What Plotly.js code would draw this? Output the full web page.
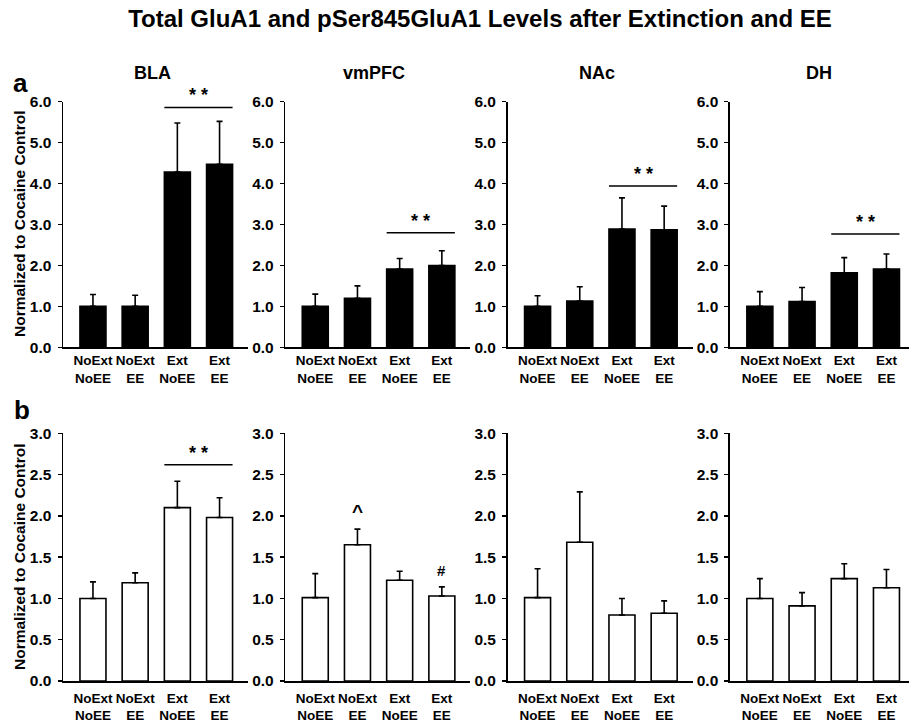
<!DOCTYPE html>
<html>
<head>
<meta charset="utf-8">
<script src="https://cdn.plot.ly/plotly-3.0.1.min.js"></script>
<style>html,body{margin:0;padding:0;background:#fff;}#chart{width:909px;height:724px;}</style>
</head>
<body>
<div id="chart"></div>
<script>
// ---------- data ----------
const categories = ['NoExt<br>NoEE', 'NoExt<br>EE', 'Ext<br>NoEE', 'Ext<br>EE'];
const regions = ['BLA', 'vmPFC', 'NAc', 'DH'];

// (a) Total GluA1, normalized to cocaine control
const totalBLA   = [1.00, 1.00, 4.28, 4.47];
const totalVmPFC = [1.00, 1.20, 1.91, 2.00];
const totalNAc   = [1.00, 1.13, 2.89, 2.87];
const totalDH    = [1.00, 1.12, 1.82, 1.91];
// top of the error bar (mean + SEM)
const totalBLAErrTop   = [1.29, 1.27, 5.48, 5.52];
const totalVmPFCErrTop = [1.30, 1.50, 2.17, 2.36];
const totalNAcErrTop   = [1.26, 1.48, 3.65, 3.45];
const totalDHErrTop    = [1.36, 1.46, 2.19, 2.28];

// (b) pSer845 GluA1, normalized to cocaine control
const pSerBLA   = [1.00, 1.19, 2.10, 1.98];
const pSerVmPFC = [1.01, 1.65, 1.22, 1.03];
const pSerNAc   = [1.01, 1.68, 0.80, 0.82];
const pSerDH    = [1.00, 0.91, 1.24, 1.13];
const pSerBLAErrTop   = [1.20, 1.31, 2.42, 2.22];
const pSerVmPFCErrTop = [1.30, 1.84, 1.33, 1.14];
const pSerNAcErrTop   = [1.36, 2.29, 1.00, 0.97];
const pSerDHErrTop    = [1.24, 1.07, 1.42, 1.35];

// significance bracket heights (data units), null = none
const totalSigLine = [5.86, 2.80, 3.94, 2.77];
const pSerSigLine  = [2.62, null, null, null];
const sigLabel = '* *';
const yTitle = 'Normalized to Cocaine Control';
const mainTitle = 'Total GluA1 and pSer845GluA1 Levels after Extinction and EE';

// ---------- layout helpers ----------
const W = 909, H = 724;
const px = x => x / W;
const py = y => 1 - y / H;
const FONT = 'Liberation Sans, Arial, sans-serif';

const topMeans = [totalBLA, totalVmPFC, totalNAc, totalDH];
const topErr   = [totalBLAErrTop, totalVmPFCErrTop, totalNAcErrTop, totalDHErrTop];
const botMeans = [pSerBLA, pSerVmPFC, pSerNAc, pSerDH];
const botErr   = [pSerBLAErrTop, pSerVmPFCErrTop, pSerNAcErrTop, pSerDHErrTop];

const pitch = 42.2;       // px per category
const barW = 0.616;
const leftPad = 0.71;

const traces = [];
const layout = {
  width: W, height: H,
  margin: {l: 0, r: 0, t: 0, b: 0},
  paper_bgcolor: '#fff', plot_bgcolor: 'rgba(0,0,0,0)',
  showlegend: false,
  font: {family: FONT, color: '#000', weight: 'bold'},
  title: {text: mainTitle, x: px(480), y: py(19), xref: 'container', yref: 'container',
          xanchor: 'center', yanchor: 'middle',
          font: {family: FONT, size: 24, weight: 'bold', color: '#000'}},
  annotations: [], shapes: []
};

function addPanel(row, k, means, errTop, sig) {
  const n = row * 4 + k + 1;
  const xa = 'xaxis' + (n === 1 ? '' : n), ya = 'yaxis' + (n === 1 ? '' : n);
  const xr = 'x' + (n === 1 ? '' : n), yr = 'y' + (n === 1 ? '' : n);
  const L = 63 + 222.3 * k;
  const R = Math.min(L + 185, W);
  const yTopPx = row === 0 ? 101.7 : 433.3;
  const yBotPx = row === 0 ? 347.3 : 681;
  const errs = errTop.map((t, i) => +(t - means[i]).toFixed(3));
  traces.push({
    type: 'bar', x: [0, 1, 2, 3], y: means, xaxis: xr, yaxis: yr, width: barW,
    marker: {color: row === 0 ? '#000' : '#fff', line: {color: '#000', width: 1.6}},
    error_y: {type: 'data', symmetric: false, array: errs, arrayminus: [0, 0, 0, 0],
              color: '#000', thickness: 1.6, width: 3},
    hoverinfo: 'skip'
  });
  layout[xa] = {
    domain: [px(L), px(R)], anchor: yr,
    range: [-leftPad, -leftPad + (R - L) / pitch],
    showline: true, linecolor: '#000', linewidth: 1.5, ticks: '',
    ticklabelstandoff: row === 0 ? 0 : 4,
    tickvals: [0, 1, 2, 3], ticktext: categories, showgrid: false, zeroline: false,
    tickfont: {family: FONT, size: 13.5, weight: 'bold', color: '#000'}, automargin: false, fixedrange: true
  };
  layout[ya] = {
    domain: [py(yBotPx), py(yTopPx)], anchor: xr,
    range: row === 0 ? [0, 6] : [0, 3], dtick: row === 0 ? 1 : 0.5, tick0: 0,
    tickformat: '.1f', showline: true, linecolor: '#000', linewidth: 1.5,
    ticks: 'outside', ticklen: 4, tickwidth: 1.5, tickcolor: '#000', ticklabelstandoff: 3,
    showgrid: false, zeroline: false, automargin: false, fixedrange: true,
    tickfont: {family: FONT, size: 15.5, weight: 'bold', color: '#000'}
  };
  if (sig !== null && sig !== undefined) {
    layout.shapes.push({type: 'line', xref: xr, yref: yr, x0: 2 - barW / 2, x1: 3 + barW / 2,
                        y0: sig, y1: sig, line: {color: '#000', width: 1.5}});
    layout.annotations.push({xref: xr, yref: yr, x: 2.5, y: sig, yanchor: 'bottom', yshift: 0,
                        text: sigLabel, showarrow: false,
                        font: {family: FONT, size: 18, weight: 'bold', color: '#000'}});
  }
  if (row === 0) {
    layout.annotations.push({xref: 'paper', yref: 'paper', x: px(L + 89), y: py(73),
      xanchor: 'center', yanchor: 'middle', text: regions[k], showarrow: false,
      font: {family: FONT, size: 18, weight: 'bold', color: '#000'}});
  }
}

for (let k = 0; k < 4; k++) {
  addPanel(0, k, topMeans[k], topErr[k], totalSigLine[k]);
  addPanel(1, k, botMeans[k], botErr[k], pSerSigLine[k]);
}

// marker symbols on vmPFC (b)
layout.annotations.push({xref: 'x6', yref: 'y6', x: 1, y: pSerVmPFCErrTop[1], yanchor: 'bottom', yshift: 5,
  text: '^', showarrow: false, font: {family: FONT, size: 19, weight: 'bold', color: '#000'}});
layout.annotations.push({xref: 'x6', yref: 'y6', x: 3, y: pSerVmPFCErrTop[3], yanchor: 'bottom', yshift: 6,
  text: '#', showarrow: false, font: {family: FONT, size: 15, weight: 'bold', color: '#000'}});

// y-axis titles and panel letters
[[224, 0], [557, 1]].forEach(([yc]) => {
  layout.annotations.push({xref: 'paper', yref: 'paper', x: px(19), y: py(yc), textangle: -90,
    xanchor: 'center', yanchor: 'middle', text: yTitle, showarrow: false,
    font: {family: FONT, size: 15.5, weight: 'bold', color: '#000'}});
});
layout.annotations.push({xref: 'paper', yref: 'paper', x: px(20), y: py(83), xanchor: 'center', yanchor: 'middle',
  text: 'a', showarrow: false, font: {family: FONT, size: 26, weight: 'bold', color: '#000'}});
layout.annotations.push({xref: 'paper', yref: 'paper', x: px(22), y: py(410), xanchor: 'center', yanchor: 'middle',
  text: 'b', showarrow: false, font: {family: FONT, size: 26, weight: 'bold', color: '#000'}});

Plotly.newPlot('chart', traces, layout, {staticPlot: true, displayModeBar: false});
</script>
</body>
</html>
